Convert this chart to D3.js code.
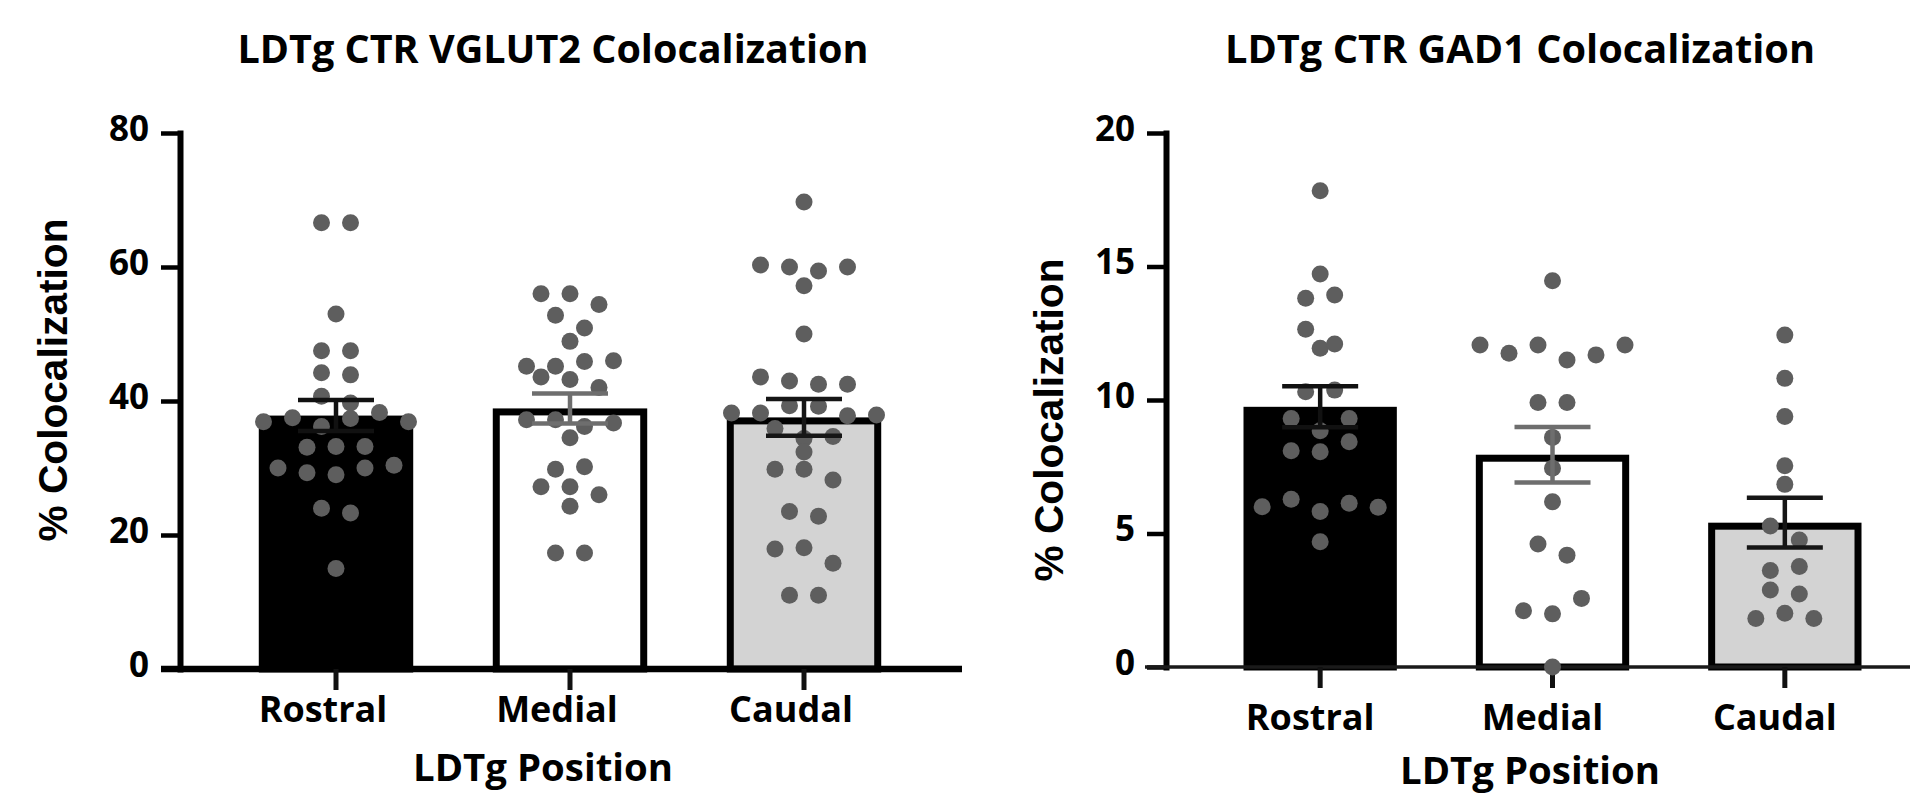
<!DOCTYPE html>
<html>

<head>
	<meta charset="utf-8">
	<script src="https://cdn.jsdelivr.net/npm/d3@7/dist/d3.min.js"></script>
	<style>
		body {
			margin: 0;
			background: #fff;
		}

		text {
			font-family: "Open Sans", sans-serif;
			font-weight: bold;
			fill: #000;
		}

		.ylabel {
			font-family: "Liberation Sans", Arial, sans-serif;
		}
	</style>
</head>

<body>
	<svg id="chart" width="1910" height="794"></svg>
	<script>

		var categories = ["Rostral", "Medial", "Caudal"];
		var barFills = ["#000000", "#ffffff", "#d3d3d3"];
		var errColors = ["#111111", "#6e6e6e", "#161616"];

		// % colocalization per section (order: rows top→bottom, left→right)
		var vglutRostral = [66.6, 66.6, 53.0, 47.5, 47.5, 44.2, 43.9, 40.7, 39.7, 36.9, 37.5, 36.2, 37.4, 38.3, 36.9,
			33.1, 33.2, 33.2, 30.0, 29.3, 29.0, 30.0, 30.4, 24.0, 23.3, 15.0];
		var vglutMedial = [56.0, 56.0, 54.4, 52.8, 50.9, 48.9, 45.2, 45.2, 45.9, 46.0, 43.6, 43.2, 42.0, 37.2, 37.2,
			36.2, 36.7, 34.5, 29.8, 30.2, 27.2, 27.2, 26.0, 24.3, 17.3, 17.3];
		var vglutCaudal = [69.7, 60.3, 60.0, 59.4, 60.0, 57.2, 50.0, 43.6, 43.0, 42.5, 42.5, 38.2, 38.2, 39.3, 39.2,
			37.8, 37.9, 35.9, 34.4, 34.7, 32.4, 29.8, 29.8, 28.2, 23.5, 22.8, 17.9, 18.1, 15.8, 11.0, 11.0];
		var vglutTicks = [0, 20, 40, 60, 80];

		var gadRostral = [17.84, 14.72, 13.81, 13.93, 12.65, 11.94, 12.10, 10.31, 10.37, 9.31, 8.85, 9.31, 8.10, 8.06,
			8.44, 6.00, 6.28, 5.82, 6.13, 5.98, 4.69];
		var gadMedial = [14.47, 12.06, 11.75, 12.06, 11.50, 11.69, 12.06, 9.91, 9.91, 8.60, 7.44, 6.19, 4.61, 4.19,
			2.11, 1.99, 2.57, 0.0];
		var gadCaudal = [12.43, 10.81, 9.38, 7.54, 6.84, 5.28, 4.76, 3.61, 3.76, 2.88, 2.73, 1.82, 2.01, 1.82];
		var gadTicks = [0, 5, 10, 15, 20];

		var panels = [
			{
				title: "LDTg CTR VGLUT2 Colocalization", groups: [vglutRostral, vglutMedial, vglutCaudal], ticks: vglutTicks,
				xRange: [219, 921], yRange: [669, 133], axisX: 180, baseExtent: [161, 962], baseWidth: 6.5, baseColor: "#000",
				titleX: 553, titleW: 631, ylabX: 67, ylabY: 380, xlabX: 543, xlabY: 781, catShift: -13, catY: 722
			},
			{
				title: "LDTg CTR GAD1 Colocalization", groups: [gadRostral, gadMedial, gadCaudal], ticks: gadTicks,
				xRange: [1204, 1901], yRange: [667, 133], axisX: 1166, baseExtent: [1145, 1910], baseWidth: 3.7, baseColor: "#1a1a1a",
				titleX: 1520, titleW: 590, ylabX: 1063, ylabY: 420, xlabX: 1530, xlabY: 784, catShift: -10, catY: 730
			}
		];

		var svg = d3.select("#chart");
		var dotR = 8.5, dotStep = 29, binPx = 16, strokeW = 7, capW = 76;

		panels.forEach(drawPanel);

		function drawPanel(p) {
			var g = svg.append("g");

			var x = d3.scaleBand()
				.domain(categories)
				.range(p.xRange)
				.paddingInner(0.34)
				.paddingOuter(0.17);
			var y = d3.scaleLinear()
				.domain([0, d3.max(p.ticks)])
				.range(p.yRange);
			var bw = x.bandwidth();
			var cx = function (c) { return x(c) + bw / 2; };

			var stats = p.groups.map(function (vals, i) {
				var m = d3.mean(vals);
				return {
					cat: categories[i], mean: m, sem: d3.deviation(vals) / Math.sqrt(vals.length),
					fill: barFills[i], err: errColors[i], dots: swarm(vals, Math.abs(y(1) - y(0)))
				};
			});

			// bars (outline kept inside the bar area)
			g.selectAll(".bar")
				.data(stats)
				.enter().append("rect")
				.attr("class", "bar")
				.attr("x", d => x(d.cat) + strokeW / 2)
				.attr("width", bw - strokeW)
				.attr("y", d => y(d.mean) + strokeW / 2)
				.attr("height", d => y(0) - y(d.mean) - strokeW / 2)
				.attr("fill", d => d.fill)
				.attr("stroke", "#000")
				.attr("stroke-width", strokeW);

			// axes
			var yAxis = g.append("g")
				.attr("transform", "translate(" + p.axisX + ",0)")
				.call(d3.axisLeft(y).tickValues(p.ticks).tickSize(19).tickSizeOuter(0).tickPadding(12));
			yAxis.select(".domain").attr("stroke-width", 6).attr("stroke-linecap", "square");
			yAxis.selectAll(".tick line").attr("stroke-width", 4.5);
			yAxis.selectAll(".tick text")
				.attr("font-size", 35)
				.attr("font-family", null)
				.attr("dy", "0.2em");
			yAxis.attr("font-size", null).attr("font-family", null);

			g.append("line")
				.attr("x1", p.baseExtent[0]).attr("x2", p.baseExtent[1])
				.attr("y1", y(0)).attr("y2", y(0))
				.attr("stroke", p.baseColor)
				.attr("stroke-width", p.baseWidth);

			var xAxis = g.append("g")
				.attr("transform", "translate(0," + y(0) + ")")
				.call(d3.axisBottom(x).tickSize(21).tickSizeOuter(0));
			xAxis.select(".domain").remove();
			xAxis.selectAll(".tick line").attr("stroke-width", 5).attr("stroke", "#111");
			xAxis.selectAll(".tick text")
				.attr("font-size", 36)
				.attr("x", p.catShift)
				.attr("y", p.catY - y(0))
				.attr("dy", 0);
			xAxis.attr("font-size", null).attr("font-family", null);

			// individual points
			stats.forEach(function (s) {
				g.selectAll(null)
					.data(s.dots)
					.enter().append("circle")
					.attr("cx", d => cx(s.cat) + d.dx)
					.attr("cy", d => y(d.value))
					.attr("r", dotR)
					.attr("fill", "#5e5e5e");
			});

			// mean ± SEM
			var err = g.selectAll(".err")
				.data(stats)
				.enter().append("g")
				.attr("class", "err")
				.attr("stroke", d => d.err)
				.attr("stroke-width", 4.5);
			err.append("line")
				.attr("x1", d => cx(d.cat)).attr("x2", d => cx(d.cat))
				.attr("y1", d => y(d.mean + d.sem)).attr("y2", d => y(d.mean - d.sem));
			[1, -1].forEach(function (sgn) {
				err.append("line")
					.attr("x1", d => cx(d.cat) - capW / 2).attr("x2", d => cx(d.cat) + capW / 2)
					.attr("y1", d => y(d.mean + sgn * d.sem)).attr("y2", d => y(d.mean + sgn * d.sem));
			});

			// labels
			g.append("text")
				.attr("x", p.titleX).attr("y", 63)
				.attr("text-anchor", "middle")
				.attr("font-size", 39)
				.attr("textLength", p.titleW)
				.attr("lengthAdjust", "spacingAndGlyphs")
				.text(p.title);

			g.append("text")
				.attr("x", p.xlabX).attr("y", p.xlabY)
				.attr("text-anchor", "middle")
				.attr("font-size", 37)
				.attr("textLength", 260)
				.attr("lengthAdjust", "spacingAndGlyphs")
				.text("LDTg Position");

			g.append("text")
				.attr("class", "ylabel")
				.attr("transform", "translate(" + p.ylabX + "," + p.ylabY + ") rotate(-90)")
				.attr("text-anchor", "middle")
				.attr("font-size", 40)
				.attr("textLength", 323)
				.attr("lengthAdjust", "spacingAndGlyphs")
				.text("% Colocalization");
		}

		// Prism-like scatter: group close values into rows, spread each row symmetrically
		function swarm(vals, pxPerUnit) {
			var order = d3.range(vals.length).sort(function (a, b) { return vals[b] - vals[a]; });
			var bins = [], cur = null;
			order.forEach(function (i) {
				if (!cur || (vals[cur[0]] - vals[i]) * pxPerUnit > binPx) {
					cur = [i];
					bins.push(cur);
				} else {
					cur.push(i);
				}
			});
			var dx = [];
			bins.forEach(function (b) {
				b.sort(function (p, q) { return p - q; });
				b.forEach(function (i, k) { dx[i] = (k - (b.length - 1) / 2) * dotStep; });
			});
			return vals.map(function (v, i) { return { value: v, dx: dx[i] }; });
		}

	</script>
</body>

</html>
